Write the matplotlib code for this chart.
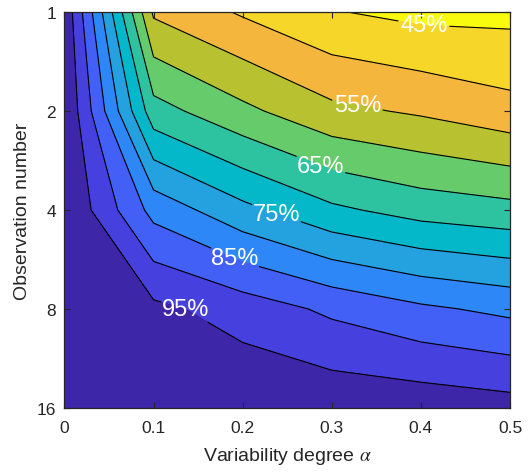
import numpy as np
import matplotlib
matplotlib.use("Agg")
import matplotlib.pyplot as plt

# ---------------- data ----------------
alpha_vals = [0.0, 0.1, 0.2, 0.3, 0.4, 0.5]
obs_numbers = [1, 2, 4, 8, 16]
# rows: observation number, columns: variability degree (percent)
success_pct = [
    [99.0, 54.2, 49.4, 45.3, 43.6, 43.6],
    [99.9, 67.0, 61.2, 56.2, 54.3, 51.7],
    [100.0, 83.3, 76.4, 71.0, 68.0, 66.6],
    [100.0, 96.2, 92.8, 89.0, 85.9, 83.8],
    [100.0, 99.6, 99.3, 98.7, 98.2, 97.1],
]
fill_levels = [40, 45, 50, 55, 60, 65, 70, 75, 80, 85, 90, 95, 101]
plain_levels = [50, 60, 70, 80, 90]
label_levels = [45, 55, 65, 75, 85, 95]
xtick_vals = [0, 0.1, 0.2, 0.3, 0.4, 0.5]
xtick_labels = ["0", "0.1", "0.2", "0.3", "0.4", "0.5"]
ytick_labels = ["1", "2", "4", "8", "16"]

# ---------------- style ----------------
band_colors = ["#F9FB0E", "#F6D629", "#F4B63C", "#B8C230", "#66CB6A", "#2EC3A0",
               "#04B7C9", "#24A2DF", "#2D87F7", "#4360F6", "#4640DF", "#3E26A8"]
label_positions = [(0.403, 0.16), (0.329, 0.93), (0.288, 1.54),
                   (0.238, 2.03), (0.190, 2.51), (0.134, 3.03)]

plt.rcParams["font.family"] = ["Liberation Sans", "DejaVu Sans"]
plt.rcParams["mathtext.fontset"] = "stix"

fig = plt.figure(figsize=(5.28, 4.77), dpi=100)
ax = fig.add_axes([0.122, 0.1426, 0.844, 0.8301])

X, Y = np.meshgrid(np.array(alpha_vals), np.log2(np.array(obs_numbers)))
Z = np.array(success_pct)

ax.contourf(X, Y, Z, levels=fill_levels, colors=band_colors)
ax.contour(X, Y, Z, levels=plain_levels, colors="k", linewidths=0.8)
cs = ax.contour(X, Y, Z, levels=label_levels, colors="k", linewidths=0.8)
texts = ax.clabel(cs, inline=True, fmt="%d%%",
                  manual=label_positions, colors="white", fontsize=17,
                  inline_spacing=2)
for t in texts:
    t.set_rotation(0)

ax.set_xlim(0, 0.5)
ax.set_ylim(np.log2(obs_numbers[-1]), np.log2(obs_numbers[0]))
ax.set_xticks(xtick_vals)
ax.set_xticklabels(xtick_labels)
ax.set_yticks(np.log2(obs_numbers))
ax.set_yticklabels(ytick_labels)

axcol = "#262626"
ax.tick_params(direction="in", top=True, right=True, length=4, width=0.8,
               labelsize=12.5, colors=axcol)
ax.tick_params(axis="x", pad=9)
ax.tick_params(axis="y", pad=6)
for s in ax.spines.values():
    s.set_color(axcol)
    s.set_linewidth(0.9)

ax.set_xlabel(r"Variability degree $\alpha$", fontsize=14, color=axcol, labelpad=7)
ax.set_ylabel("Observation number", fontsize=14, color=axcol, labelpad=4)

fig.savefig("out.png", dpi=100)
